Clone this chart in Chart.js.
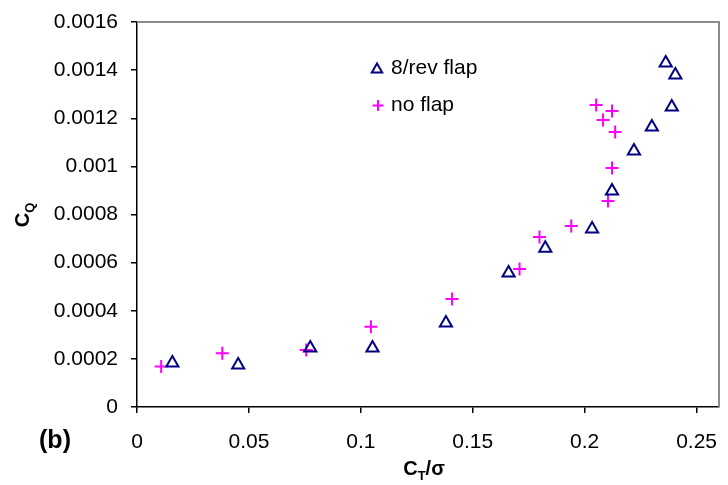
<!DOCTYPE html>
<html>
<head>
<meta charset="utf-8">
<script src="https://cdn.jsdelivr.net/npm/chart.js@4"></script>
<style>
  html, body { margin: 0; padding: 0; background: #fff; }
</style>
</head>
<body>
<canvas id="cqChart" width="728" height="485"></canvas>
<script>
// C_T/sigma vs C_Q
const flapX = [0.0158, 0.0452, 0.0774, 0.1052, 0.1380, 0.1660, 0.1824, 0.2033, 0.2122, 0.2220, 0.2300, 0.2389, 0.2362, 0.2405];
const flapY = [0.000183, 0.000175, 0.000245, 0.000245, 0.000349, 0.000557, 0.000660, 0.000740, 0.000898, 0.001064, 0.001164, 0.001247, 0.001430, 0.001380];

const noFlapX = [0.0108, 0.0381, 0.0756, 0.1045, 0.1407, 0.1709, 0.1798, 0.1940, 0.2051, 0.2082, 0.2104, 0.2122, 0.2122, 0.2136];
const noFlapY = [0.000168, 0.000223, 0.000237, 0.000334, 0.000449, 0.000573, 0.000707, 0.000752, 0.001255, 0.001193, 0.000856, 0.001230, 0.000993, 0.001143];

const seriesNames = ["8/rev flap", "no flap"];

const xTicks = [0, 0.05, 0.1, 0.15, 0.2, 0.25];
const xTickLabels = ["0", "0.05", "0.1", "0.15", "0.2", "0.25"];
const yTicks = [0, 0.0002, 0.0004, 0.0006, 0.0008, 0.001, 0.0012, 0.0014, 0.0016];
const yTickLabels = ["0", "0.0002", "0.0004", "0.0006", "0.0008", "0.001", "0.0012", "0.0014", "0.0016"];

const FONT = "'Liberation Sans', Arial, sans-serif";
const NAVY = "#000080";
const MAGENTA = "#ff00ff";

function toPoints(xs, ys) {
    return xs.map((x, i) => ({ x: x, y: ys[i] }));
}

// text with a subscript, left aligned at x, baseline y
function subText(ctx, parts, x, y, measureOnly) {
    let w = 0;
    parts.forEach(p => {
        ctx.font = p.sub ? "bold 13px " + FONT : "bold 20px " + FONT;
        if (!measureOnly) ctx.fillText(p.t, x + w, y + (p.sub ? 5 : 0));
        w += ctx.measureText(p.t).width;
    });
    return w;
}

const extras = {
    id: "extras",
    afterDraw(chart) {
        const c = chart.ctx;
        const a = chart.chartArea;
        c.save();

        // grey frame on top and right
        c.strokeStyle = "#8c8c8c";
        c.lineWidth = 2;
        c.beginPath();
        c.moveTo(a.left, a.top);
        c.lineTo(a.right, a.top);
        c.lineTo(a.right, a.bottom);
        c.stroke();

        // legend inside the plot
        c.fillStyle = "rgba(0,0,0,0)";
        c.lineWidth = 2;
        c.strokeStyle = NAVY;
        Chart.helpers.drawPoint(c, { pointStyle: "triangle", radius: 6, rotation: 0, borderWidth: 2 }, 377, 69.5);
        c.strokeStyle = MAGENTA;
        Chart.helpers.drawPoint(c, { pointStyle: "cross", radius: 5.5, rotation: 0, borderWidth: 2 }, 378, 105.5);

        c.fillStyle = "#000";
        c.font = "21px " + FONT;
        c.textAlign = "left";
        c.textBaseline = "alphabetic";
        c.fillText(seriesNames[0], 391, 74);
        c.fillText(seriesNames[1], 391, 111);

        // panel tag
        c.font = "bold 25px " + FONT;
        c.textAlign = "center";
        c.textBaseline = "middle";
        c.fillText("(b)", 55, 441);

        // x title C_T/sigma
        c.textAlign = "left";
        c.textBaseline = "alphabetic";
        const xParts = [{ t: "C" }, { t: "T", sub: true }, { t: "/σ" }];
        const xw = subText(c, xParts, 0, 0, true);
        subText(c, xParts, 424 - xw / 2, 475);

        // y title C_Q
        const yParts = [{ t: "C" }, { t: "Q", sub: true }];
        const yw = subText(c, yParts, 0, 0, true);
        c.translate(29, 215);
        c.rotate(-Math.PI / 2);
        subText(c, yParts, -yw / 2, 0);

        c.restore();
    }
};

new Chart(document.getElementById("cqChart").getContext("2d"), {
    type: "scatter",
    data: {
        datasets: [
            {
                label: seriesNames[0],
                data: toPoints(flapX, flapY),
                pointStyle: "triangle",
                pointRadius: 7,
                borderColor: NAVY,
                pointBorderWidth: 2,
                backgroundColor: "rgba(0,0,0,0)",
            },
            {
                label: seriesNames[1],
                data: toPoints(noFlapX, noFlapY),
                pointStyle: "cross",
                pointRadius: 6.5,
                borderColor: MAGENTA,
                pointBorderWidth: 2,
                backgroundColor: "rgba(0,0,0,0)",
            },
        ],
    },
    options: {
        responsive: false,
        devicePixelRatio: 1,
        animation: false,
        layout: { padding: { left: 0, top: 22, right: 8, bottom: 0 } },
        scales: {
            x: {
                type: "linear",
                min: 0,
                max: 0.26,
                afterFit: s => { s.height = 78; s.paddingLeft = 0; s.paddingRight = 0; },
                afterBuildTicks: s => { s.ticks = xTicks.map(v => ({ value: v })); },
                border: { color: "#000", width: 1.5 },
                grid: { drawOnChartArea: false, drawTicks: true, tickLength: 6, color: "#000", lineWidth: 1.5 },
                ticks: {
                    padding: 17,
                    color: "#000",
                    font: { family: FONT, size: 21 },
                    callback: (v, i) => xTickLabels[i],
                },
            },
            y: {
                type: "linear",
                min: 0,
                max: 0.0016,
                afterFit: s => { s.width = 137; s.paddingTop = 0; s.paddingBottom = 0; },
                afterBuildTicks: s => { s.ticks = yTicks.map(v => ({ value: v })); },
                border: { color: "#000", width: 1.5 },
                grid: { drawOnChartArea: false, drawTicks: true, tickLength: 6, color: "#000", lineWidth: 1.5 },
                ticks: {
                    padding: 13,
                    color: "#000",
                    font: { family: FONT, size: 21 },
                    callback: (v, i) => yTickLabels[i],
                },
            },
        },
        plugins: {
            legend: { display: false },
            tooltip: { enabled: false },
        },
    },
    plugins: [extras],
});
</script>
</body>
</html>
